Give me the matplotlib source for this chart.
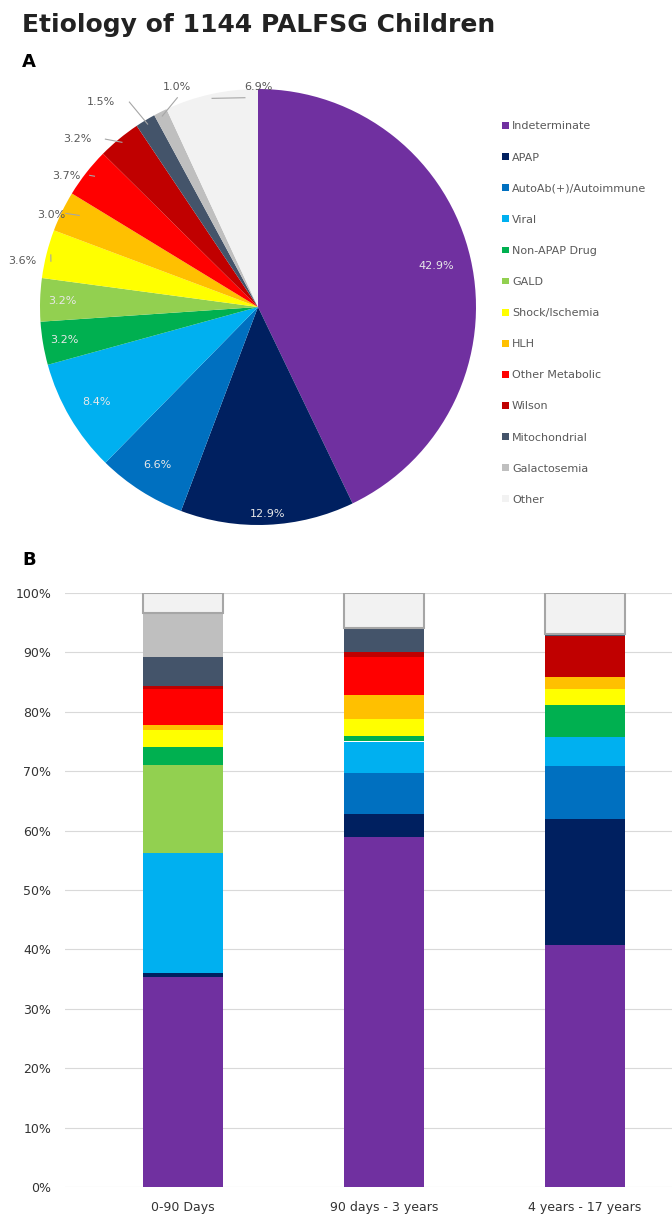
import matplotlib.pyplot as plt
import numpy as np

plt.rcParams["font.family"] = ["DejaVu Sans"]

# etiology categories (legend / pie order)
etiologies = [
    "Indeterminate", "APAP", "AutoAb(+)/Autoimmune", "Viral", "Non-APAP Drug",
    "GALD", "Shock/Ischemia", "HLH", "Other Metabolic", "Wilson",
    "Mitochondrial", "Galactosemia", "Other",
]
colors = [
    "#7030A0", "#002060", "#0070C0", "#00B0F0", "#00B050",
    "#92D050", "#FFFF00", "#FFC000", "#FF0000", "#C00000",
    "#44546A", "#BFBFBF", "#F2F2F2",
]

# panel A: share of all 1144 children (%)
overall_pct = [42.9, 12.9, 6.6, 8.4, 3.2, 3.2, 3.6, 3.0, 3.7, 3.2, 1.5, 1.0, 6.9]

# panel B: share within each age group (%), same order as etiologies
age_groups = ["0-90 Days", "90 days - 3 years", "4 years - 17 years"]
pct_0_90_days = [35.4, 0.7, 0.0, 20.2, 2.9, 14.8, 3.0, 0.7, 6.1, 0.6, 4.8, 7.4, 3.4]
pct_90d_3y = [58.9, 3.9, 6.9, 5.3, 0.9, 0.0, 2.9, 4.1, 6.4, 0.7, 4.1, 0.0, 5.9]
pct_4y_17y = [40.7, 21.2, 9.0, 4.9, 5.3, 0.0, 2.8, 1.9, 0.0, 7.0, 0.3, 0.0, 6.9]

# bar stacking order (GALD sits below Non-APAP Drug in the bars)
stack_order = [0, 1, 2, 3, 5, 4, 6, 7, 8, 9, 10, 11, 12]

W, H = 672, 1225
fig = plt.figure(figsize=(W / 100, H / 100), dpi=100)

fig.text(22 / W, 1 - 25 / H, "Etiology of 1144 PALFSG Children",
         fontsize=18, fontweight="bold", color="#222222", va="center")
fig.text(22 / W, 1 - 62 / H, "A", fontsize=13, fontweight="bold", va="center")
fig.text(22 / W, 1 - 560 / H, "B", fontsize=13, fontweight="bold", va="center")

# ---- panel A: pie ----
cx, cy, r = 258, 307, 218
ax1 = fig.add_axes([(cx - r) / W, 1 - (cy + r) / H, 2 * r / W, 2 * r / H])
wedges, _ = ax1.pie(overall_pct, colors=colors, startangle=90,
                    counterclock=False, radius=1.0)
ax1.set_xlim(-1, 1)
ax1.set_ylim(-1, 1)
ax1.set_aspect("equal")
ax1.axis("off")

total = sum(overall_pct)
cum = np.concatenate([[0], np.cumsum(overall_pct)])
mid = np.deg2rad(90 - (cum[:-1] + cum[1:]) / 2 / total * 360)

inner_r = [0.84, 0.95, 0.86, 0.86, 0.9, 0.9]
for i, rr in enumerate(inner_r):
    ax1.text(rr * np.cos(mid[i]), rr * np.sin(mid[i]), f"{overall_pct[i]:.1f}%",
             ha="center", va="center", fontsize=8, color="#E8E8E8")

# outer labels (layout positions, in pie-radius units)
outer_pos = {6: (-1.08, 0.21), 7: (-0.95, 0.42), 8: (-0.88, 0.6),
             9: (-0.83, 0.77), 10: (-0.72, 0.94), 11: (-0.37, 1.01),
             12: (0.0, 1.01)}
for i, (tx, ty) in outer_pos.items():
    ax1.text(tx, ty, f"{overall_pct[i]:.1f}%", ha="center", va="center",
             fontsize=8, color="#595959")
    ex, ey = 0.98 * np.cos(mid[i]), 0.98 * np.sin(mid[i])
    if i == 11:
        sx, sy = tx, ty - 0.05
    elif i == 12:
        sx, sy = tx - 0.06, ty - 0.05
    else:
        sx, sy = tx + 0.13, ty
    ax1.plot([sx, ex], [sy, ey], color="#A6A6A6", lw=0.8, clip_on=False)

fig.legend(wedges, etiologies, loc="upper left",
           bbox_to_anchor=(498 / W, 1 - 117 / H), frameon=False, fontsize=8,
           labelcolor="#595959", handlelength=0.55, handleheight=0.55,
           handletextpad=0.3, labelspacing=1.9, borderaxespad=0)

# ---- panel B: stacked bars ----
ax2 = fig.add_axes([65 / W, 1 - 1187 / H, 1 - 65 / W, (1187 - 593) / H])
groups = [pct_0_90_days, pct_90d_3y, pct_4y_17y]
x = np.arange(len(age_groups))
bottom = np.zeros(len(age_groups))
for k in stack_order:
    vals = np.array([g[k] for g in groups])
    if k == len(etiologies) - 1:
        ax2.bar(x, vals, 0.4, bottom=bottom, color=colors[k],
                edgecolor="#A6A6A6", linewidth=1.5, zorder=3)
    else:
        ax2.bar(x, vals, 0.4, bottom=bottom, color=colors[k], zorder=3)
    bottom += vals

ax2.set_xlim(-0.587, 2.433)
ax2.set_ylim(0, 100)
ax2.set_yticks(np.arange(0, 101, 10))
ax2.set_yticklabels([f"{v}%" for v in range(0, 101, 10)])
ax2.set_xticks(x)
ax2.set_xticklabels(age_groups)
ax2.tick_params(length=0, labelsize=9, colors="#333333")
ax2.tick_params(axis="y", pad=10)
ax2.tick_params(axis="x", pad=10)
ax2.grid(axis="y", color="#D9D9D9", lw=0.8, zorder=0)
for s in ax2.spines.values():
    s.set_visible(False)

fig.savefig("out.png", dpi=100)
